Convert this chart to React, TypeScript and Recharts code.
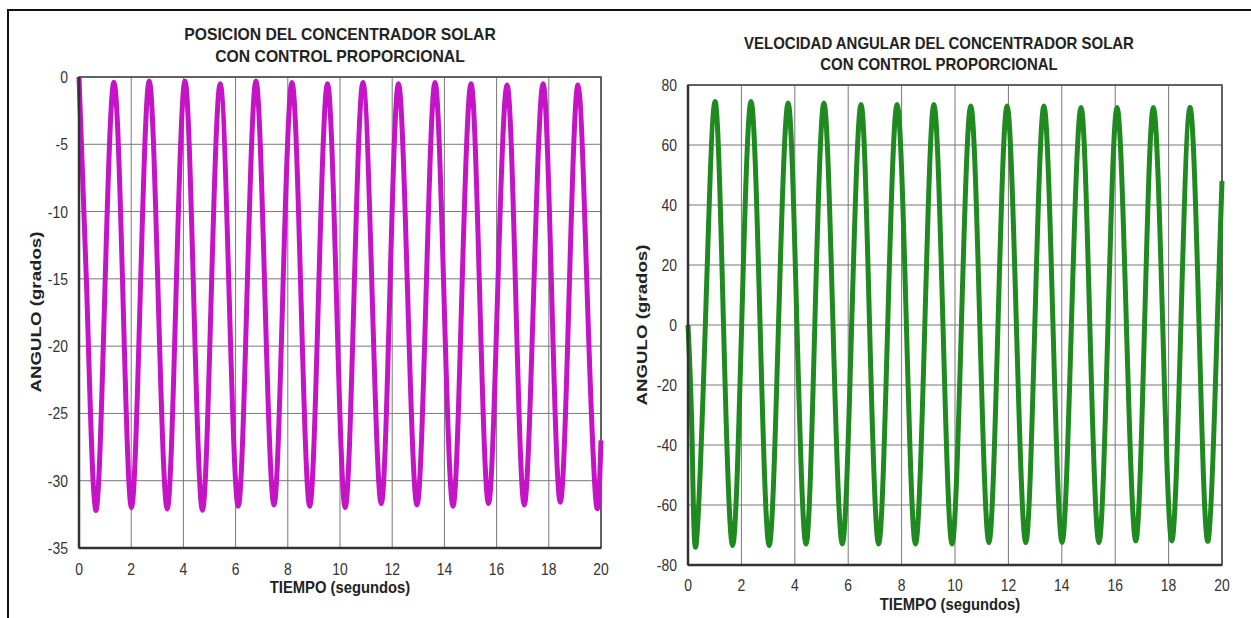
import React from "react";
import {
  LineChart,
  Line,
  XAxis,
  YAxis,
  CartesianGrid,
  ReferenceArea,
} from "recharts";

// tick labels
const timeTicks = [0, 2, 4, 6, 8, 10, 12, 14, 16, 18, 20];
const posTicks = [-35, -30, -25, -20, -15, -10, -5, 0];
const velTicks = [-80, -60, -40, -20, 0, 20, 40, 60, 80];

// posicion (grados) vs tiempo (s)
const posTime = [
  0, 0.3, 0.64, 0.99, 1.34, 1.68, 2.01, 2.35, 2.69, 3.03, 3.38, 3.72, 4.06, 4.39, 4.73,
  5.07, 5.41, 5.75, 6.1, 6.44, 6.78, 7.12, 7.47, 7.81, 8.16, 8.5, 8.84, 9.18, 9.52, 9.86,
  10.2, 10.54, 10.88, 11.23, 11.58, 11.91, 12.24, 12.59, 12.95, 13.3, 13.64, 13.98, 14.33,
  14.67, 15.02, 15.35, 15.69, 16.04, 16.4, 16.73, 17.06, 17.42, 17.78, 18.11, 18.44, 18.78,
  19.12, 19.47, 19.81, 20,
];
const posAngle = [
  0, -16, -32.2, -16, -0.4, -16, -32, -16, -0.3, -16, -32.1, -16, -0.3, -16, -32.2,
  -16, -0.5, -16, -31.9, -16, -0.3, -16, -31.8, -16, -0.4, -16, -31.9, -16, -0.5, -16,
  -32, -16, -0.4, -16, -31.7, -16, -0.5, -16, -31.8, -16, -0.4, -16, -31.9,
  -16, -0.5, -16, -31.7, -16, -0.6, -16, -31.8, -16, -0.5, -16, -31.6, -16,
  -0.6, -16, -31.6, -27,
];

// velocidad angular vs tiempo (s)
const velTime = [
  0, 0.15, 0.3, 0.65, 1.01, 1.33, 1.67, 2.01, 2.36, 2.7, 3.04, 3.39, 3.75, 4.08, 4.42,
  4.75, 5.09, 5.43, 5.78, 6.13, 6.48, 6.8, 7.14, 7.48, 7.83, 8.18, 8.52, 8.87, 9.21,
  9.55, 9.89, 10.24, 10.59, 10.93, 11.27, 11.61, 11.95, 12.3, 12.65, 12.99, 13.33,
  13.67, 14.01, 14.36, 14.72, 15.05, 15.39, 15.73, 16.07, 16.42, 16.77, 17.1, 17.43,
  17.78, 18.12, 18.46, 18.8, 19.14, 19.48, 19.82, 20,
];
const velAngle = [
  0, -37, -73.5, 0, 74.5, 0, -73.5, 0, 74.5, 0, -73.5, 0, 74, 0, -73,
  0, 74, 0, -73, 0, 73.5, 0, -73, 0, 73.5, 0, -73, 0, 73.5,
  0, -73, 0, 73, 0, -72.5, 0, 73, 0, -72.5, 0, 73,
  0, -72.5, 0, 72.5, 0, -72.5, 0, 72.5, 0, -72, 0, 72.5,
  0, -72, 0, 72.5, 0, -72, 0, 48,
];

const posData = posTime.map((t, i) => ({ t, v: posAngle[i] }));
const velData = velTime.map((t, i) => ({ t, v: velAngle[i] }));

const FONT = "'Liberation Sans', Arial, sans-serif";

// texto de ticks algo estrecho, como en la figura original
function XTick(props: any) {
  const { x, y, payload } = props;
  return (
    <g transform={`translate(${x},${y})`}>
      <text
        transform="scale(0.82,1)"
        textAnchor="middle"
        dy="0.71em"
        fill="#333"
        fontSize={17}
        fontFamily={FONT}
      >
        {payload.value}
      </text>
    </g>
  );
}

function YTick(props: any) {
  const { x, y, payload } = props;
  return (
    <g transform={`translate(${x},${y})`}>
      <text
        transform="scale(0.82,1)"
        textAnchor="end"
        dy="0.355em"
        fill="#333"
        fontSize={17}
        fontFamily={FONT}
      >
        {payload.value}
      </text>
    </g>
  );
}

interface PanelProps {
  data: { t: number; v: number }[];
  yTicks: number[];
  color: string;
  width: number;
  height: number;
  margin: { top: number; right: number; bottom: number; left: number };
  xTickMargin: number;
}

function Panel({ data, yTicks, color, width, height, margin, xTickMargin }: PanelProps) {
  const yMin = yTicks[0];
  const yMax = yTicks[yTicks.length - 1];
  return (
    <LineChart width={width} height={height} data={data} margin={margin}>
      <CartesianGrid stroke="#777" strokeWidth={1} />
      <XAxis
        dataKey="t"
        type="number"
        domain={[0, 20]}
        ticks={timeTicks}
        tick={<XTick />}
        tickLine={false}
        tickMargin={xTickMargin}
        axisLine={{ stroke: "#333", strokeWidth: 2.5 }}
        height={30}
        interval={0}
      />
      <YAxis
        type="number"
        domain={[yMin, yMax]}
        ticks={yTicks}
        tick={<YTick />}
        tickLine={false}
        tickMargin={5}
        axisLine={{ stroke: "#333", strokeWidth: 2.5 }}
        width={40}
        interval={0}
      />
      <ReferenceArea
        x1={0}
        x2={20}
        y1={yMin}
        y2={yMax}
        fill="none"
        stroke="#444"
        strokeWidth={1.5}
      />
      <Line
        type="natural"
        dataKey="v"
        stroke={color}
        strokeWidth={5}
        dot={false}
        isAnimationActive={false}
      />
    </LineChart>
  );
}

const titleStyle: React.CSSProperties = {
  position: "absolute",
  width: 500,
  textAlign: "center",
  fontFamily: FONT,
  fontWeight: "bold",
  fontSize: 17,
  color: "#222",
  whiteSpace: "nowrap",
};

const labelStyle: React.CSSProperties = {
  position: "absolute",
  width: 240,
  height: 18,
  lineHeight: "18px",
  textAlign: "center",
  fontFamily: FONT,
  fontWeight: "bold",
  fontSize: 17,
  color: "#222",
  whiteSpace: "nowrap",
};

export default function App() {
  return (
    <div
      style={{
        position: "absolute",
        left: 0,
        top: 0,
        width: 1251,
        height: 618,
        background: "#fff",
        overflow: "hidden",
      }}
    >
      {/* marco exterior */}
      <div style={{ position: "absolute", left: 7, top: 9, width: 1244, height: 2, background: "#111" }} />
      <div style={{ position: "absolute", left: 7, top: 9, width: 2, height: 609, background: "#111" }} />

      <div style={{ ...titleStyle, left: 90, top: 24, lineHeight: "22px", transform: "scaleX(0.925)" }}>
        POSICION DEL CONCENTRADOR SOLAR
        <br />
        CON CONTROL PROPORCIONAL
      </div>
      <div style={{ ...titleStyle, left: 689, top: 33, lineHeight: "21px", transform: "scaleX(0.88)" }}>
        VELOCIDAD ANGULAR DEL CONCENTRADOR SOLAR
        <br />
        CON CONTROL PROPORCIONAL
      </div>

      <div style={{ position: "absolute", left: 0, top: 0 }}>
        <Panel
          data={posData}
          yTicks={posTicks}
          color="#c414c6"
          width={620}
          height={618}
          margin={{ top: 77, right: 19, bottom: 40, left: 39 }}
          xTickMargin={9}
        />
      </div>
      <div style={{ position: "absolute", left: 620, top: 0 }}>
        <Panel
          data={velData}
          yTicks={velTicks}
          color="#1f8a1f"
          width={631}
          height={618}
          margin={{ top: 85, right: 29, bottom: 23, left: 28 }}
          xTickMargin={8}
        />
      </div>

      <div style={{ ...labelStyle, left: 340 - 120, top: 579, transform: "scaleX(0.87)" }}>
        TIEMPO (segundos)
      </div>
      <div style={{ ...labelStyle, left: 950 - 120, top: 596, transform: "scaleX(0.87)" }}>
        TIEMPO (segundos)
      </div>
      <div
        style={{
          ...labelStyle,
          left: 37 - 120,
          top: 312 - 9,
          transform: "rotate(-90deg) scale(1.1, 0.85)",
        }}
      >
        ANGULO (grados)
      </div>
      <div
        style={{
          ...labelStyle,
          left: 643 - 120,
          top: 325 - 9,
          transform: "rotate(-90deg) scale(1.1, 0.85)",
        }}
      >
        ANGULO (grados)
      </div>
    </div>
  );
}
